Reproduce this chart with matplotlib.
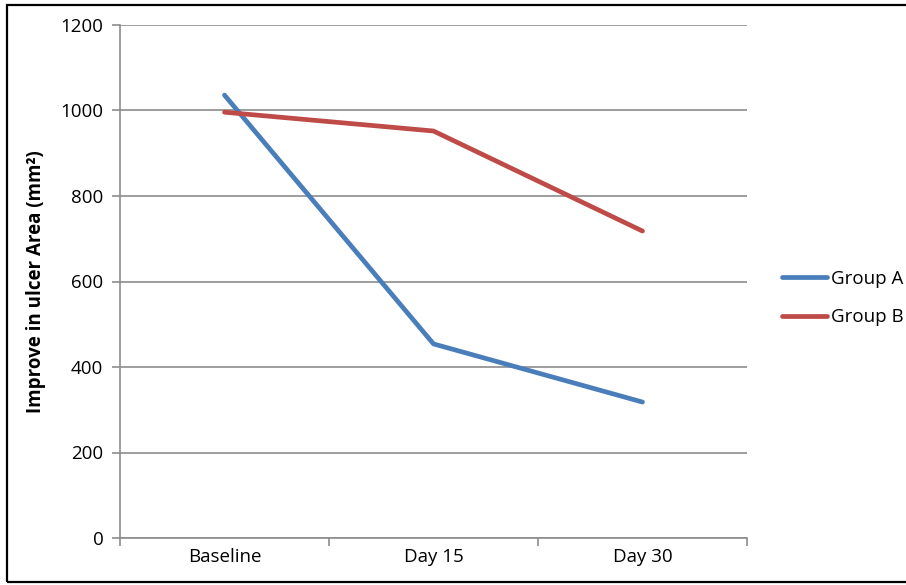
import matplotlib.pyplot as plt
from matplotlib.patches import Rectangle

categories = ['Baseline', 'Day 15', 'Day 30']
group_a = [1036, 454, 318]
group_b = [996, 952, 718]
yticks = [0, 200, 400, 600, 800, 1000, 1200]

plt.rcParams['font.family'] = ['Open Sans', 'DejaVu Sans']

W, H = 906, 585
fig = plt.figure(figsize=(W / 100, H / 100), dpi=100)
ax = fig.add_axes([120 / W, 1 - 538 / H, 627 / W, 513 / H])

x = range(len(categories))
ax.plot(x, group_a, color='#4a7ebb', lw=3.4, label='Group A', solid_capstyle='round')
ax.plot(x, group_b, color='#be4b48', lw=3.4, label='Group B', solid_capstyle='round')

ax.set_xlim(-0.5, len(categories) - 0.5)
ax.set_ylim(0, 1200)
ax.set_yticks(yticks)
ax.set_yticklabels([str(v) for v in yticks], fontsize=13.5)
ax.yaxis.grid(True, color='#8c8c8c', lw=1.2)
ax.set_axisbelow(True)

# category labels between boundary ticks
ax.set_xticks([i - 0.5 for i in range(len(categories) + 1)])
ax.set_xticklabels([])
ax.set_xticks(list(x), minor=True)
ax.set_xticklabels(categories, minor=True, fontsize=13.5)
ax.tick_params(axis='x', which='minor', length=0, pad=7)
ax.tick_params(axis='x', which='major', length=6, color='#8c8c8c', width=1.2)
ax.tick_params(axis='y', length=6, color='#8c8c8c', width=1.2, pad=6)

for s in ['top', 'right']:
    ax.spines[s].set_visible(False)
for s in ['left', 'bottom']:
    ax.spines[s].set_color('#8c8c8c')
    ax.spines[s].set_linewidth(1.2)

ax.set_ylabel('Improve in ulcer Area (mm²)', fontsize=13.5, fontweight='bold', labelpad=10)

leg = ax.legend(loc='center left', bbox_to_anchor=(765 / W, 1 - 298 / H),
                bbox_transform=fig.transFigure, frameon=False, fontsize=13.5,
                handlelength=2.4, handletextpad=0.2, labelspacing=1.1)

fig.patches.append(Rectangle((7 / W, 3 / H), 1.2, 1 - 8 / H, transform=fig.transFigure,
                             fill=False, edgecolor='black', lw=1.6))

fig.savefig('out.png', dpi=100)
